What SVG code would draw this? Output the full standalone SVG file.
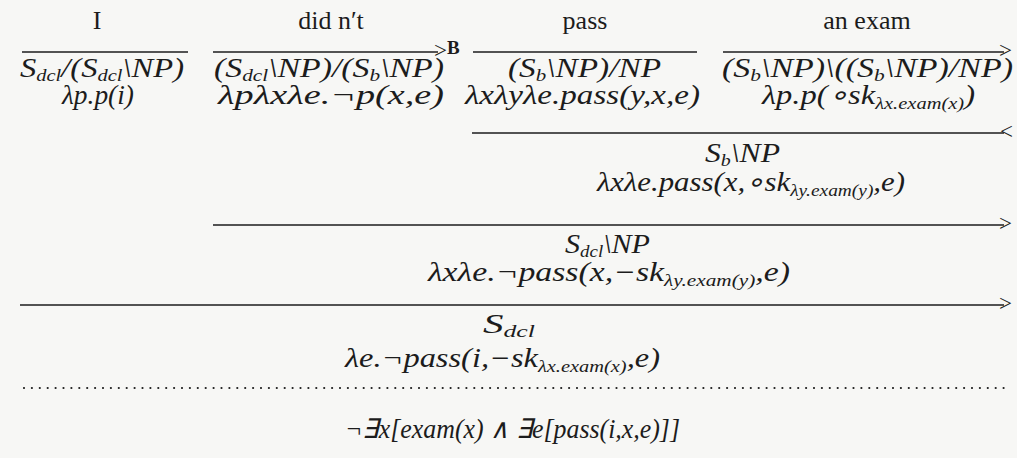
<svg xmlns="http://www.w3.org/2000/svg" width="1017" height="458" viewBox="0 0 1017 458">
<style>
.bg{fill:#f7f7f5}
.w{font-family:"Liberation Serif","Times New Roman",serif;font-size:26px;fill:#1c1c1c}
.m{font-family:"Liberation Serif","Times New Roman",serif;font-size:27px;font-style:italic;fill:#1c1c1c}
.s{font-size:17px}
.ln{stroke:#1c1c1c;stroke-width:1.6;fill:none}
.dot{stroke:#1c1c1c;stroke-width:2.2;stroke-linecap:round;stroke-dasharray:0 7.9;fill:none}
.op{font-family:"Liberation Serif","Times New Roman",serif;font-size:23px;fill:#1c1c1c}
</style>
<rect class="bg" x="0" y="0" width="1017" height="458"/>

<g id="leaf-I">
<text class="w" x="97" y="29" text-anchor="middle">I</text>
<text class="m" x="20" y="77" textLength="164" lengthAdjust="spacingAndGlyphs">S<tspan class="s" dy="4">dcl</tspan><tspan dy="-4">/(S</tspan><tspan class="s" dy="4">dcl</tspan><tspan dy="-4">\NP)</tspan></text>
<text class="m" x="62" y="104" textLength="72" lengthAdjust="spacingAndGlyphs">λp.p(i)</text>
</g>

<g id="leaf-didnt">
<text class="w" x="331" y="29" text-anchor="middle">did n′t</text>
<text class="m" x="214" y="77" textLength="230" lengthAdjust="spacingAndGlyphs">(S<tspan class="s" dy="4">dcl</tspan><tspan dy="-4">\NP)/(S</tspan><tspan class="s" dy="4">b</tspan><tspan dy="-4">\NP)</tspan></text>
<text class="m" x="218" y="104" textLength="226" lengthAdjust="spacingAndGlyphs">λpλxλe.¬p(x,e)</text>
</g>

<g id="leaf-pass">
<text class="w" x="585" y="29" text-anchor="middle">pass</text>
<text class="m" x="508" y="77" textLength="153" lengthAdjust="spacingAndGlyphs">(S<tspan class="s" dy="4">b</tspan><tspan dy="-4">\NP)/NP</tspan></text>
<text class="m" x="465" y="104" textLength="235" lengthAdjust="spacingAndGlyphs">λxλyλe.pass(y,x,e)</text>
</g>

<g id="leaf-anexam">
<text class="w" x="867" y="29" text-anchor="middle">an exam</text>
<text class="m" x="722" y="77" textLength="291" lengthAdjust="spacingAndGlyphs">(S<tspan class="s" dy="4">b</tspan><tspan dy="-4">\NP)\((S</tspan><tspan class="s" dy="4">b</tspan><tspan dy="-4">\NP)/NP)</tspan></text>
<text class="m" x="762" y="104" textLength="213" lengthAdjust="spacingAndGlyphs">λp.p(∘sk<tspan class="s" dy="5">λx.exam(x)</tspan><tspan dy="-5">)</tspan></text>
</g>

<g id="node-vp-b">
<text class="m" x="705" y="162" textLength="75" lengthAdjust="spacingAndGlyphs">S<tspan class="s" dy="4">b</tspan><tspan dy="-4">\NP</tspan></text>
<text class="m" x="597" y="191" textLength="308" lengthAdjust="spacingAndGlyphs">λxλe.pass(x,∘sk<tspan class="s" dy="5">λy.exam(y)</tspan><tspan dy="-5">,e)</tspan></text>
</g>

<g id="node-vp-dcl">
<text class="m" x="565" y="253" textLength="85" lengthAdjust="spacingAndGlyphs">S<tspan class="s" dy="4">dcl</tspan><tspan dy="-4">\NP</tspan></text>
<text class="m" x="428" y="281" textLength="362" lengthAdjust="spacingAndGlyphs">λxλe.¬pass(x,−sk<tspan class="s" dy="5">λy.exam(y)</tspan><tspan dy="-5">,e)</tspan></text>
</g>

<g id="node-s-dcl">
<text class="m" x="483" y="333" textLength="52" lengthAdjust="spacingAndGlyphs">S<tspan class="s" dy="4">dcl</tspan></text>
<text class="m" x="345" y="367" textLength="315" lengthAdjust="spacingAndGlyphs">λe.¬pass(i,−sk<tspan class="s" dy="5">λx.exam(x)</tspan><tspan dy="-5">,e)</tspan></text>
</g>

<g id="node-logical-form">
<text class="m" x="345" y="438" textLength="335" lengthAdjust="spacingAndGlyphs">¬∃x[exam(x) ∧ ∃e[pass(i,x,e)]]</text>
</g>

<g id="connectors">
<line class="ln" x1="22" y1="52" x2="188" y2="52"/>
<line class="ln" x1="213" y1="52" x2="438" y2="52"/>
<text class="op" x="434" y="58">&gt;<tspan font-weight="bold" font-size="19" dy="-4">B</tspan></text>
<line class="ln" x1="473" y1="52" x2="697" y2="52"/>
<line class="ln" x1="723" y1="52" x2="1004" y2="52"/>
<text class="op" x="999" y="58">&gt;</text>
<line class="ln" x1="472" y1="133" x2="1004" y2="133"/>
<text class="op" x="1000" y="139">&lt;</text>
<line class="ln" x1="213" y1="225" x2="1004" y2="225"/>
<text class="op" x="999" y="231">&gt;</text>
<line class="ln" x1="20" y1="305" x2="1004" y2="305"/>
<text class="op" x="999" y="311">&gt;</text>
<line class="dot" x1="24" y1="388" x2="1010" y2="388"/>
</g>
</svg>
